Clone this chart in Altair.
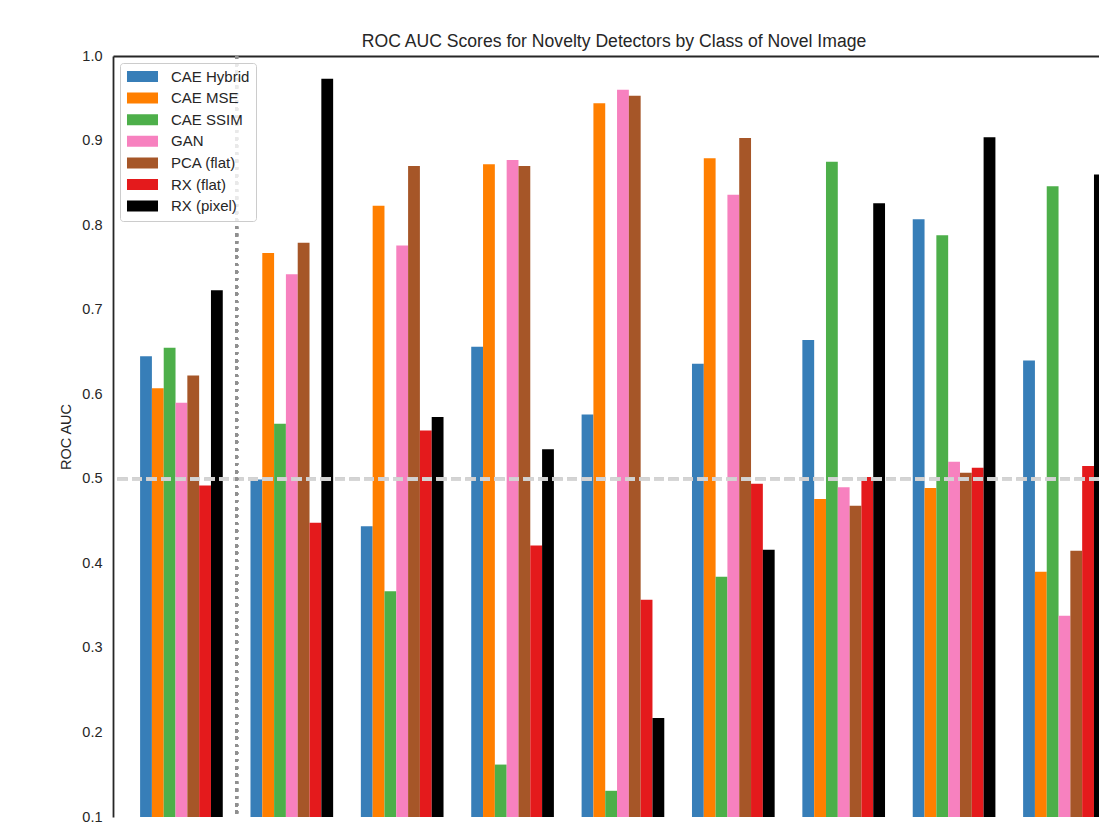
import altair as alt
import pandas as pd

# ---- data ----
detectors = ["CAE Hybrid", "CAE MSE", "CAE SSIM", "GAN", "PCA (flat)", "RX (flat)", "RX (pixel)"]
colors = ["#377eb8", "#ff7f00", "#4daf4a", "#f781bf", "#a65628", "#e41a1c", "#000000"]
class_index = [0, 1, 2, 3, 4, 5, 6, 7, 8]

cae_hybrid = [0.645, 0.499, 0.444, 0.656, 0.576, 0.636, 0.664, 0.807, 0.640]
cae_mse    = [0.607, 0.767, 0.823, 0.872, 0.944, 0.879, 0.476, 0.489, 0.390]
cae_ssim   = [0.655, 0.565, 0.367, 0.162, 0.131, 0.384, 0.875, 0.788, 0.846]
gan        = [0.590, 0.742, 0.776, 0.877, 0.960, 0.836, 0.490, 0.520, 0.338]
pca_flat   = [0.622, 0.779, 0.870, 0.870, 0.953, 0.903, 0.468, 0.507, 0.415]
rx_flat    = [0.492, 0.448, 0.557, 0.421, 0.357, 0.494, 0.502, 0.513, 0.515]
rx_pixel   = [0.723, 0.973, 0.573, 0.535, 0.217, 0.416, 0.826, 0.904, 0.860]

y_ticks = [0.1, 0.2, 0.3, 0.4, 0.5, 0.6, 0.7, 0.8, 0.9, 1.0]
chance_level = 0.5
divider_at = 0.5

series = [cae_hybrid, cae_mse, cae_ssim, gan, pca_flat, rx_flat, rx_pixel]
rows = []
for j, (name, vals) in enumerate(zip(detectors, series)):
    for c, v in zip(class_index, vals):
        rows.append({"cls": c, "j": j, "detector": name, "value": v})
df = pd.DataFrame(rows)

BAR_W = 0.107
X_DOMAIN = [-0.62, 8.313]
Y_DOMAIN = [0.1, 1.0]
FONT = "Liberation Sans"
INK = "#262626"

xscale = alt.Scale(domain=X_DOMAIN, nice=False, zero=False)
yscale = alt.Scale(domain=Y_DOMAIN, nice=False, zero=False)

legend_path = "M-2.82,-1L2.82,-1L2.82,1L-2.82,1Z"

bars = alt.Chart(df).mark_bar(clip=True).transform_calculate(
    x0=f"datum.cls + (datum.j - 3.5) * {BAR_W}",
    x1=f"datum.cls + (datum.j - 2.5) * {BAR_W}",
).encode(
    x=alt.X("x0:Q", scale=xscale,
            axis=alt.Axis(labels=False, ticks=False, grid=False, title=None,
                          domainColor=INK, domainWidth=1.8)),
    x2="x1:Q",
    y=alt.Y("value:Q", scale=yscale,
            axis=alt.Axis(values=y_ticks, format=".1f", ticks=False, grid=False,
                          domainColor=INK, domainWidth=1.8,
                          labelFontSize=14.5, labelColor=INK, labelPadding=11,
                          title="ROC AUC", titleFontSize=14.5, titleFontWeight="normal",
                          titleColor=INK, titlePadding=8)),
    y2=alt.datum(0.1),
    color=alt.Color("detector:N", scale=alt.Scale(domain=detectors, range=colors),
                    legend=alt.Legend(title=None, orient="none", legendX=7, legendY=7,
                                      symbolType=legend_path, symbolSize=121,
                                      symbolStrokeWidth=0, symbolOffset=9,
                                      labelOffset=21, labelFontSize=15,
                                      labelColor=INK, labelFont=FONT,
                                      padding=6, rowPadding=5.6,
                                      fillColor="rgba(255,255,255,0.8)",
                                      strokeColor="#cccccc", cornerRadius=3)),
)

hline = alt.Chart(df).mark_rule(color="#d3d3d3", opacity=0.6, strokeWidth=2.8,
                                strokeDash=[10, 4.5]).encode(
    y=alt.YDatum(chance_level, scale=yscale)
)

vline = alt.Chart(df).mark_rule(color="#8f8f8f", strokeWidth=2.8,
                                strokeDash=[2.8, 4.6]).encode(
    x=alt.XDatum(divider_at, scale=xscale,
                 axis=alt.Axis(orient="top", labels=False, ticks=False, grid=False,
                               title=None, domainColor=INK, domainWidth=1.8))
)

chart = alt.layer(bars, hline, vline).properties(
    width=986,
    height=761,
    padding={"left": 105, "top": 48, "right": 0, "bottom": 6},
    autosize=alt.AutoSizeParams(type="none"),
    title=alt.TitleParams(
        "ROC AUC Scores for Novelty Detectors by Class of Novel Image",
        fontSize=17.6, fontWeight="normal", color=INK, font=FONT,
        anchor="middle", offset=0, dx=8, dy=3),
).configure(font=FONT).configure_view(stroke=None)

chart.save("out.html", embed_options={"renderer": "svg", "actions": False})
